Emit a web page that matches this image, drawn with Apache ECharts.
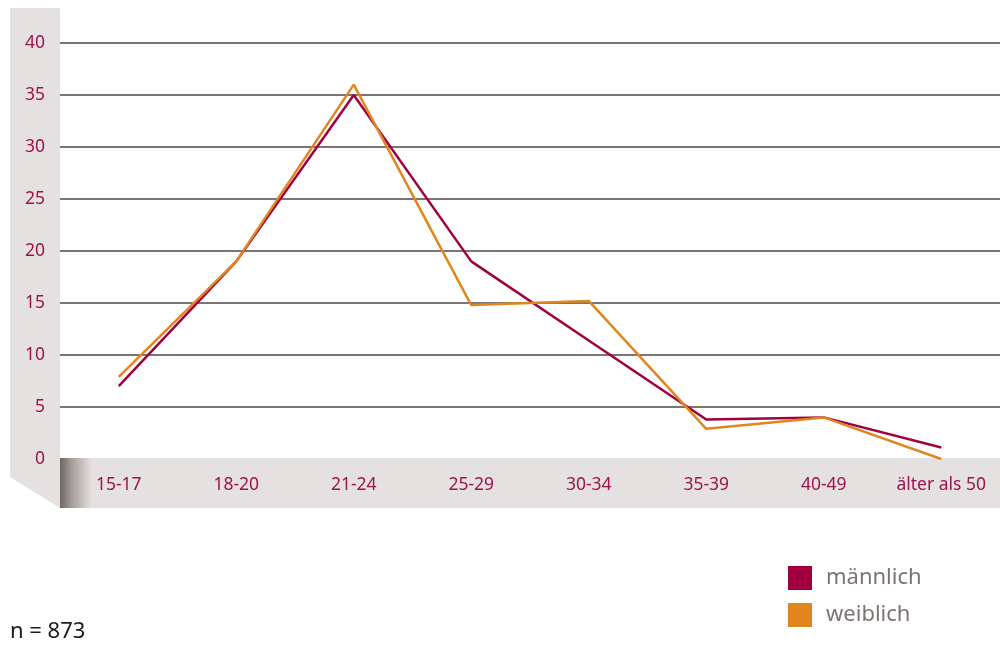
<!DOCTYPE html>
<html>
<head>
<meta charset="utf-8">
<script src="https://cdn.jsdelivr.net/npm/echarts@6/dist/echarts.min.js"></script>
<style>
html,body{margin:0;padding:0;background:#fff;}
#c{width:1000px;height:646px;}
</style>
</head>
<body>
<div id="c"></div>
<script>
const categories = ['15-17','18-20','21-24','25-29','30-34','35-39','40-49','älter als 50'];
const maennlich = [7.0, 19.0, 35.0, 19.0, 11.4, 3.8, 4.0, 1.1];
const weiblich = [7.9, 19.0, 36.0, 14.8, 15.2, 2.9, 4.0, 0.0];
const seriesNames = ['männlich','weiblich'];
const yTicks = {min:0, max:40, interval:5};

const FONT = '"Noto Sans", "Open Sans", sans-serif';
const chart = echarts.init(document.getElementById('c'), null, {renderer:'canvas'});
chart.setOption({
  animation:false,
  backgroundColor:'#ffffff',
  grid:{left:60, right:0, top:43, bottom:187, containLabel:false},
  xAxis:{
    type:'category', data:categories, boundaryGap:true, z:5,
    axisLine:{show:false}, axisTick:{show:false},
    axisLabel:{color:'#9b1450', fontSize:17.5, fontFamily:FONT, margin:17, interval:0}
  },
  yAxis:{
    type:'value', min:yTicks.min, max:yTicks.max, interval:yTicks.interval, z:0,
    axisLine:{show:false}, axisTick:{show:false},
    axisLabel:{color:'#9b1450', fontSize:17.5, fontFamily:FONT, margin:15},
    splitLine:{lineStyle:{color:'#7d7472', width:2}}
  },
  legend:{
    orient:'vertical', left:783, top:561, itemWidth:24, itemHeight:24, itemGap:13,
    icon:'rect',
    textStyle:{color:'#7d7472', fontSize:22, fontFamily:FONT, padding:[0,0,0,9]},
    data:seriesNames
  },
  graphic:[
    {type:'polygon', z:-10, shape:{points:[[10,8],[60,8],[60,508],[10,477]]}, style:{fill:'#e6e1e1'}},
    {type:'rect', z:1, shape:{x:60, y:458, width:940, height:50},
     style:{fill:{type:'linear', x:0, y:0, x2:1, y2:0, colorStops:[
       {offset:0, color:'#6f6664'},{offset:0.012, color:'#a59c9a'},{offset:0.034, color:'#e6e1e1'},{offset:1, color:'#e6e1e1'}]}}},
    {type:'text', left:10, top:621, style:{text:'n = 873', fill:'#1a1a1a', fontSize:22, fontFamily:FONT}}
  ],
  series:[
    {name:seriesNames[0], type:'line', data:maennlich, z:6, showSymbol:false, symbol:'none',
     lineStyle:{color:'#a0003f', width:2.5}, itemStyle:{color:'#a0003f'}},
    {name:seriesNames[1], type:'line', data:weiblich, z:6, showSymbol:false, symbol:'none',
     lineStyle:{color:'#e1861f', width:2.5}, itemStyle:{color:'#e1861f'}}
  ]
});
</script>
</body>
</html>
